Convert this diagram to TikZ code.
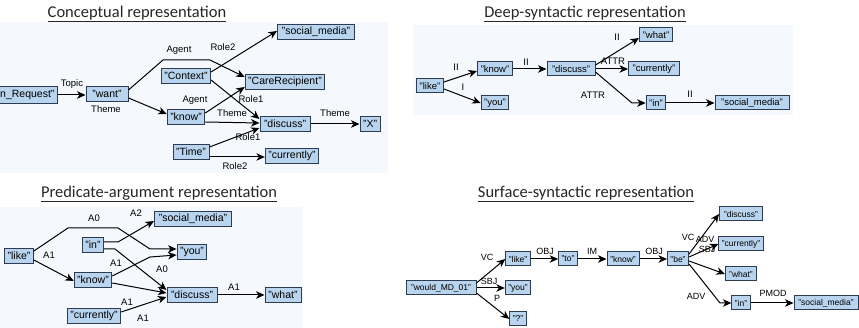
\documentclass[tikz,border=0pt]{standalone}
\usepackage{fontspec}
\setmainfont{Liberation Sans}
\newfontfamily\titlefont{Carlito}
\usepackage{xcolor}
\usetikzlibrary{arrows.meta}
\definecolor{boxblue}{RGB}{184,212,238}
\definecolor{boxline}{RGB}{45,60,80}
\definecolor{panelbg}{RGB}{245,248,252}

\begin{document}
\begin{tikzpicture}[x=1pt,y=-1pt,
  nd/.style={draw=boxline,fill=boxblue,line width=1pt,inner xsep=3pt,inner ysep=1pt,minimum height=15pt,font=\fontsize{10.5}{12}\selectfont},
  dnd/.style={nd,minimum height=14pt,font=\fontsize{9.5}{11}\selectfont},
  snd/.style={nd,minimum height=14pt,font=\fontsize{8.5}{10}\selectfont},
  lbl/.style={inner sep=0pt,font=\fontsize{9.5}{11}\selectfont},
  slbl/.style={lbl,font=\fontsize{9}{10}\selectfont},
  arr/.style={draw,line width=1pt,-{Stealth[length=8.5pt,width=7.5pt,inset=2.5pt]}},
  ttl/.style={font=\titlefont\fontsize{16.5}{19}\selectfont,text=black!85}]
  \useasboundingbox (0,0) rectangle (859,328);
  \fill[panelbg] (0,22) rectangle (388,173);
  \fill[panelbg] (413,25) rectangle (793,115);
  \fill[panelbg] (0,207) rectangle (303,328);

  \node[ttl] (tconc) at (137,14) {\underline{Conceptual representation}};
  \node[ttl] (tdeep) at (585,14) {\underline{Deep-syntactic representation}};
  \node[ttl] (tpred) at (159,194) {\underline{Predicate-argument representation}};
  \node[ttl] (tsurf) at (586,194) {\underline{Surface-syntactic representation}};

  \node[nd,anchor=east,minimum height=17pt] (req) at (58,95) {"Information\_Request"};
  \node[nd,minimum width=42] (want) at (107,94) {"want"};
  \node[nd,minimum width=46] (ctx) at (186,76) {"Context"};
  \node[nd,minimum width=77] (csoc) at (316,32) {"social\_media"};
  \node[nd,minimum width=79] (care) at (285,82) {"CareRecipient"};
  \node[nd,minimum width=37] (cknow) at (186,117) {"know"};
  \node[nd,minimum width=50] (cdisc) at (285,124) {"discuss"};
  \node[nd,minimum width=19] (cx) at (370,124) {"X"};
  \node[nd,minimum width=36] (time) at (191,152) {"Time"};
  \node[nd,minimum width=51] (ccur) at (292,156) {"currently"};
  \draw[arr] (req.east) -- (req.east -| want.west);
  \draw[arr] ([yshift=-4pt]want.east) -- ([yshift=3pt]cknow.west);
  \draw[arr] ([yshift=4pt]want.east) -- (163,60) -- (210,60) -- ([yshift=5pt]care.west);
  \draw[arr] ([yshift=4pt]ctx.east) -- ([yshift=1pt]csoc.west);
  \draw[arr] ([yshift=-4pt]ctx.east) -- ([yshift=5pt]cdisc.west);
  \draw[arr] ([yshift=4pt]cknow.east) -- ([yshift=-5pt]care.west);
  \draw[arr] ([yshift=-5pt]cknow.east) -- ([yshift=1pt]cdisc.west);
  \draw[arr] ([yshift=5pt]time.east) -- ([yshift=-4pt]cdisc.west);
  \draw[arr] ([yshift=-5pt]time.east) -- ([yshift=-1pt]ccur.west);
  \draw[arr] (cdisc) -- (cx);
  \node[lbl] (ltopic) at (72,84) {Topic};
  \node[lbl] (ltheme1) at (106,109) {Theme};
  \node[lbl] (lagent1) at (179,50) {Agent};
  \node[lbl] (lrole2a) at (223,47) {Role2};
  \node[lbl] (lagent2) at (195,100) {Agent};
  \node[lbl] (lrole1a) at (251,99) {Role1};
  \node[lbl] (ltheme2) at (232,113) {Theme};
  \node[lbl] (lrole1b) at (248,137) {Role1};
  \node[lbl] (lrole2b) at (235,166) {Role2};
  \node[lbl] (ltheme3) at (335,113) {Theme};

  \node[dnd,minimum width=27] (dlike) at (430,86) {"like"};
  \node[dnd,minimum width=35] (dknow) at (495,69) {"know"};
  \node[dnd,minimum width=27] (dyou) at (495,103) {"you"};
  \node[dnd,minimum width=48] (ddisc) at (571,69) {"discuss"};
  \node[dnd,minimum width=33] (dwhat) at (656,35) {"what"};
  \node[dnd,minimum width=51] (dcur) at (654,69) {"currently"};
  \node[dnd,minimum width=18] (din) at (656,103) {"in"};
  \node[dnd,minimum width=74] (dsoc) at (752,103) {"social\_media"};
  \draw[arr] ([yshift=4pt]dlike.east) -- ([yshift=-2pt]dknow.west);
  \draw[arr] ([yshift=-3pt]dlike.east) -- (dyou.west);
  \draw[arr] (dknow) -- (ddisc);
  \draw[arr] ([yshift=4pt]ddisc.east) -- ([yshift=-3pt]dwhat.west);
  \draw[arr] (ddisc) -- (dcur);
  \draw[arr] ([yshift=-3pt]ddisc.east) -- (632,103) -- (din.west);
  \draw[arr] (din) -- (dsoc);
  \node[lbl] (dl1) at (456,67) {II};
  \node[lbl] (dl2) at (463,87) {I};
  \node[lbl] (dl3) at (526,62) {II};
  \node[lbl] (dl4) at (617,37) {II};
  \node[lbl] (dl5) at (613,61) {ATTR};
  \node[lbl] (dl6) at (593,95) {ATTR};
  \node[lbl] (dl7) at (690,94) {II};

  \node[nd,minimum width=26] (plike) at (19,256) {"like"};
  \node[nd,minimum width=21] (pin) at (93,245) {"in"};
  \node[nd,minimum width=77] (psoc) at (193,219) {"social\_media"};
  \node[nd,minimum width=28] (pyou) at (192,252) {"you"};
  \node[nd,minimum width=37] (pknow) at (93,280) {"know"};
  \node[nd,minimum width=50] (pdisc) at (192,295) {"discuss"};
  \node[nd,minimum width=36] (pwhat) at (283,295) {"what"};
  \node[nd,minimum width=53] (pcur) at (94,316) {"currently"};
  \draw[arr] ([yshift=5pt]plike.east) -- (68,228) -- (118,228) -- (150,249) -- ([yshift=3pt]pyou.west);
  \draw[arr] ([yshift=-4pt]plike.east) -- ([yshift=-1pt]pknow.west);
  \draw[arr] ([yshift=3pt]pin.east) -- (118,242) -- ([yshift=-2pt]psoc.west);
  \draw[arr] ([yshift=-4pt]pin.east) -- (115,249) -- ([yshift=5pt]pdisc.west);
  \draw[arr] ([yshift=4pt]pknow.east) -- (150,257) -- ([yshift=-3pt]pyou.west);
  \draw[arr] ([yshift=-3pt]pknow.east) -- ([yshift=2pt]pdisc.west);
  \draw[arr] ([yshift=4pt]pcur.east) -- ([yshift=-2pt]pdisc.west);
  \draw[arr] (pdisc) -- (pwhat);
  \node[lbl] (pl1) at (94,218) {A0};
  \node[lbl] (pl2) at (49,255) {A1};
  \node[lbl] (pl3) at (136,213) {A2};
  \node[lbl] (pl4) at (116,263) {A1};
  \node[lbl] (pl5) at (162,269) {A0};
  \node[lbl] (pl6) at (127,302) {A1};
  \node[lbl] (pl7) at (143,318) {A1};
  \node[lbl] (pl8) at (234,287) {A1};

  \node[snd,minimum width=70] (swould) at (441,288) {"would\_MD\_01"};
  \node[snd,minimum width=24] (slike) at (518,259) {"like"};
  \node[snd,minimum width=23] (syou) at (518,288) {"you"};
  \node[snd,minimum width=14] (sq) at (518,319) {"?"};
  \node[snd,minimum width=17] (sto) at (568,259) {"to"};
  \node[snd,minimum width=32] (sknow) at (623,259) {"know"};
  \node[snd,minimum width=18] (sbe) at (678,259) {"be"};
  \node[snd,minimum width=43] (sdisc) at (741,214) {"discuss"};
  \node[snd,minimum width=44] (scur) at (741,244) {"currently"};
  \node[snd,minimum width=31] (swhat) at (741,274) {"what"};
  \node[snd,minimum width=18] (sin) at (741,303) {"in"};
  \node[snd,minimum width=64] (ssoc) at (826,303) {"social\_media"};
  \draw[arr] ([yshift=5pt]swould.east) -- (slike.west);
  \draw[arr] (swould) -- (syou);
  \draw[arr] ([yshift=-5pt]swould.east) -- (sq.west);
  \draw[arr] (slike) -- (sto);
  \draw[arr] (sto) -- (sknow);
  \draw[arr] (sknow) -- (sbe);
  \draw[arr] ([yshift=5pt]sbe.east) -- (sdisc.west);
  \draw[arr] ([yshift=2pt]sbe.east) -- (scur.west);
  \draw[arr] ([yshift=-2pt]sbe.east) -- (swhat.west);
  \draw[arr] ([yshift=-5pt]sbe.east) -- (720,303) -- (sin.west);
  \draw[arr] (sin) -- (ssoc);
  \node[slbl] (sl1) at (487,257) {VC};
  \node[slbl] (sl2) at (489,281) {SBJ};
  \node[slbl] (sl3) at (497,298) {P};
  \node[slbl] (sl4) at (545,251) {OBJ};
  \node[slbl] (sl5) at (592,251) {IM};
  \node[slbl] (sl6) at (654,251) {OBJ};
  \node[slbl] (sl7) at (688,237) {VC};
  \node[slbl] (sl8) at (705,239) {ADV};
  \node[slbl] (sl9) at (707,249) {SBJ};
  \node[slbl] (sl10) at (696,296) {ADV};
  \node[slbl] (sl11) at (773,293) {PMOD};
\end{tikzpicture}
\end{document}
